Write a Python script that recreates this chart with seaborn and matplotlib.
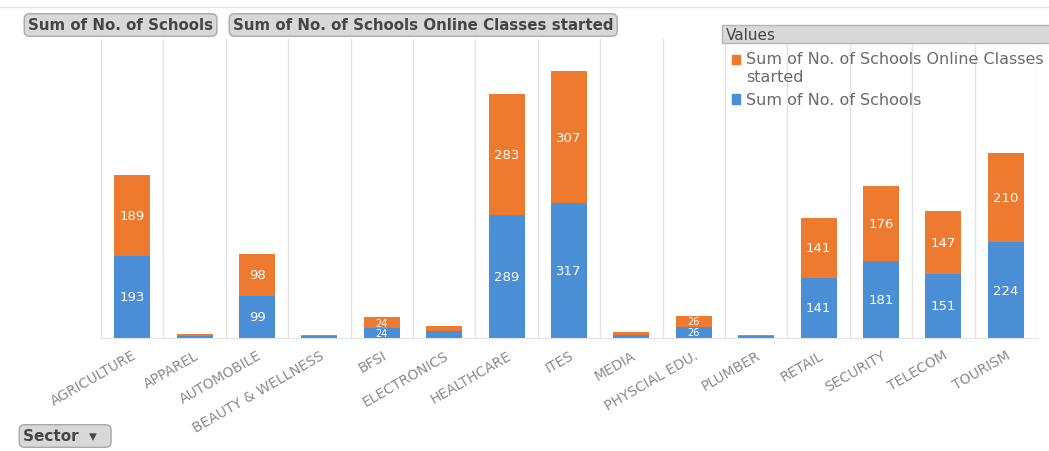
import numpy as np
import pandas as pd
import seaborn as sns
import matplotlib.pyplot as plt
from matplotlib.patches import Rectangle
from matplotlib.lines import Line2D
from matplotlib.ticker import FixedLocator

# Data
sectors = ['AGRICULTURE', 'APPAREL', 'AUTOMOBILE', 'BEAUTY & WELLNESS', 'BFSI',
           'ELECTRONICS', 'HEALTHCARE', 'ITES', 'MEDIA', 'PHYSCIAL EDU.',
           'PLUMBER', 'RETAIL', 'SECURITY', 'TELECOM', 'TOURISM']
schools = [193, 5, 99, 5, 24, 16, 289, 317, 7, 26, 4, 141, 181, 151, 224]
online = [189, 4, 98, 3, 24, 12, 283, 307, 7, 26, 4, 141, 176, 147, 210]

df = pd.DataFrame({'Sector': sectors, 'schools': schools, 'online': online})
df['total'] = df['schools'] + df['online']

blue = '#4a8fd6'
orange = '#ee7a2f'
W, H = 1049, 452

sns.set_style('white')
plt.rcParams['font.family'] = ['DejaVu Sans']

fig = plt.figure(figsize=(W / 100, H / 100), dpi=100)
ax = fig.add_axes([101 / W, 1 - 339 / H, 936 / W, 299 / H])

# stacked look: totals in orange, schools in blue over them
sns.barplot(data=df, x='Sector', y='total', color=orange, width=0.58,
            saturation=1, errorbar=None, linewidth=0, ax=ax)
sns.barplot(data=df, x='Sector', y='schools', color=blue, width=0.58,
            saturation=1, errorbar=None, linewidth=0, ax=ax)

# white value labels in the middle of each segment
for i, (s, o) in enumerate(zip(schools, online)):
    for val, mid in ((s, s / 2), (o, s + o / 2)):
        if val >= 20:
            fs = 9.5 if val >= 50 else 7
            ax.text(i, mid, str(val), color='white', fontsize=fs,
                    ha='center', va='center')

ax.set_xlim(-0.5, len(sectors) - 0.5)
ax.set_ylim(0, 700)
ax.set_xlabel('')
ax.set_ylabel('')
ax.set_yticks([])
ax.xaxis.set_minor_locator(FixedLocator(np.arange(-0.5, len(sectors))))
ax.grid(which='minor', axis='x', color='#e4e4e4', lw=1)
ax.set_axisbelow(True)
for sp in ['top', 'left', 'right']:
    ax.spines[sp].set_visible(False)
ax.spines['bottom'].set_color('#e4e4e4')
ax.tick_params(axis='x', which='both', length=0, pad=7)
plt.setp(ax.get_xticklabels(), rotation=30, ha='right', rotation_mode='anchor',
         color='#8a8a8a', fontsize=10)

# field buttons of the pivot chart
btn = dict(boxstyle='round,pad=0.25,rounding_size=0.35', fc='#d8d8d8', ec='#a9a9a9', lw=1)
fig.text(28 / W, 1 - 26 / H, 'Sum of No. of Schools', fontsize=10.8, fontweight='bold',
         color='#454545', va='center', bbox=btn)
fig.text(233 / W, 1 - 26 / H, 'Sum of No. of Schools Online Classes started', fontsize=10.8,
         fontweight='bold', color='#454545', va='center', bbox=btn)
fig.text(23 / W, 1 - 437 / H, 'Sector  \u25be  ', fontsize=11, fontweight='bold',
         color='#454545', va='center', bbox=btn)

# thin line along the top
fig.add_artist(Line2D([0, 1], [1 - 8 / H, 1 - 8 / H], transform=fig.transFigure,
                      color='#e6e6e6', lw=1))

# legend with grey header bar
handles = [Rectangle((0, 0), 1, 1, color=orange), Rectangle((0, 0), 1, 1, color=blue)]
labels = ['Sum of No. of Schools Online Classes\nstarted', 'Sum of No. of Schools']
fig.patches.append(Rectangle((722 / W, 1 - 44 / H), 330 / W, 18 / H, transform=fig.transFigure,
                             fc='#d9d9d9', ec='#b5b5b5', lw=1, zorder=1))
leg = fig.legend(handles, labels, title='Values', loc='upper left',
                 bbox_to_anchor=(723 / W, 1 - 26 / H), frameon=False, alignment='left',
                 handlelength=0.55, handleheight=0.55, handletextpad=0.75,
                 fontsize=11.5, title_fontsize=11, labelspacing=0.55,
                 borderpad=0.15, borderaxespad=0)
leg.get_title().set_color('#454545')
for t in leg.get_texts():
    t.set_color('#6a6a6a')
# markers sit a bit to the right, the orange one level with the first text line
for k, hd in enumerate(leg.legend_handles):
    hd.set_x(hd.get_x() + 4.5)
    if k == 0:
        hd.set_y(hd.get_y() + 6)

fig.savefig('out.png', dpi=100)
